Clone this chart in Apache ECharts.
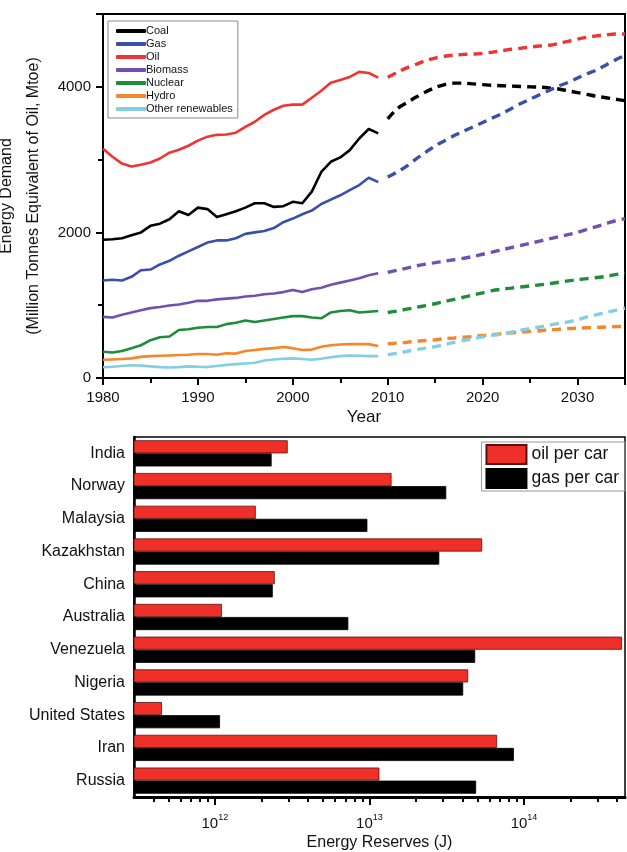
<!DOCTYPE html>
<html>
<head>
<meta charset="utf-8">
<script src="https://cdn.jsdelivr.net/npm/echarts@6/dist/echarts.min.js"></script>
<style>
  html, body { margin: 0; padding: 0; background: #fff; }
  #chart { width: 627px; height: 852px; }
</style>
</head>
<body>
<div id="chart"></div>
<script>
// ---- Energy demand by fuel, Mtoe (historical + projection) ----
const histYears = [1980,1981,1982,1983,1984,1985,1986,1987,1988,1989,1990,1991,1992,1993,1994,
                   1995,1996,1997,1998,1999,2000,2001,2002,2003,2004,2005,2006,2007,2008,2009];
const projYears = [2010,2011,2012,2013,2014,2015,2016,2017,2018,2019,2020,2021,2022,
                   2023,2024,2025,2026,2027,2028,2029,2030,2031,2032,2033,2034,2035];

const fuelNames = ['Coal', 'Gas', 'Oil', 'Biomass', 'Nuclear', 'Hydro', 'Other renewables'];
const fuelColors = ['#000000', '#3a4faa', '#ef3434', '#7150b0', '#1e8c3a', '#f7862a', '#82cfe3'];

const coalHist = [1900,1905,1920,1960,2000,2090,2120,2180,2290,2240,2340,2320,2210,2250,2290,
                  2340,2400,2400,2350,2360,2420,2400,2560,2830,2970,3030,3130,3290,3420,3360];
const gasHist = [1340,1350,1340,1390,1480,1490,1560,1610,1680,1740,1800,1860,1890,1890,1920,
                 1980,2000,2020,2060,2140,2190,2250,2300,2390,2450,2510,2580,2650,2750,2690];
const oilHist = [3150,3040,2945,2905,2930,2960,3015,3095,3135,3190,3260,3315,3340,3345,3370,
                 3450,3520,3615,3685,3740,3755,3755,3850,3945,4055,4095,4135,4205,4190,4125];
const biomassHist = [840,830,870,900,930,960,975,995,1010,1035,1060,1060,1080,1090,1100,
                     1120,1130,1150,1160,1180,1210,1180,1220,1240,1280,1310,1340,1370,1410,1440];
const nuclearHist = [360,350,370,410,450,520,560,570,660,670,690,700,700,740,760,
                     790,770,790,810,830,850,850,830,820,900,920,930,900,910,920];
const hydroHist = [250,255,260,270,290,300,305,310,315,320,330,330,320,340,335,
                   370,385,400,410,425,410,385,390,430,450,460,465,465,465,440];
const otherHist = [150,155,165,175,170,160,150,145,150,160,155,150,165,180,190,
                   200,210,240,255,265,270,260,250,265,285,300,310,305,300,300];

const coalProj = [3560,3700,3780,3860,3930,3990,4030,4050,4050,4040,4030,4020,4015,
                  4010,4005,4000,3995,3985,3970,3945,3920,3895,3870,3850,3830,3810];
const gasProj = [2760,2830,2910,3010,3100,3190,3260,3330,3390,3450,3510,3570,3630,
                 3700,3770,3830,3890,3950,4010,4060,4120,4180,4230,4300,4370,4430];
const oilProj = [4130,4200,4260,4310,4360,4395,4420,4435,4445,4450,4460,4475,4495,
                 4515,4530,4545,4560,4570,4595,4625,4655,4680,4700,4715,4725,4725];
const biomassProj = [1450,1480,1510,1540,1565,1585,1605,1625,1645,1670,1700,1730,1760,
                     1790,1820,1850,1880,1910,1940,1970,2000,2040,2080,2120,2160,2190];
const nuclearProj = [900,920,945,970,995,1020,1050,1080,1110,1140,1170,1200,1220,
                     1235,1250,1265,1280,1295,1315,1335,1350,1365,1380,1395,1420,1440];
const hydroProj = [470,480,490,505,515,525,540,550,560,570,585,595,610,
                   620,630,640,650,660,670,680,685,690,695,700,705,710];
const otherProj = [320,340,365,390,410,430,460,490,515,540,565,585,605,
                   630,655,680,700,725,750,770,800,840,870,900,930,960];

const histSets = [coalHist, gasHist, oilHist, biomassHist, nuclearHist, hydroHist, otherHist];
const projSets = [coalProj, gasProj, oilProj, biomassProj, nuclearProj, hydroProj, otherProj];

// ---- Energy reserves per car, J ----
const countries = ['India', 'Norway', 'Malaysia', 'Kazakhstan', 'China', 'Australia',
                   'Venezuela', 'Nigeria', 'United States', 'Iran', 'Russia'];
const oilPerCar = [2.96e12, 1.39e13, 1.84e12, 5.36e13, 2.44e12, 1.11e12,
                   4.3e14, 4.35e13, 4.55e11, 6.7e13, 1.16e13];
const gasPerCar = [2.33e12, 3.14e13, 9.7e12, 2.83e13, 2.37e12, 7.3e12,
                   4.83e13, 4.04e13, 1.08e12, 8.6e13, 4.9e13];

const reserveMajorTicks = [1e12, 1e13, 1e14];
const reserveMinorTicks = [4e11, 5e11, 6e11, 7e11, 8e11, 9e11,
                           2e12, 3e12, 4e12, 5e12, 6e12, 7e12, 8e12, 9e12,
                           2e13, 3e13, 4e13, 5e13, 6e13, 7e13, 8e13, 9e13,
                           2e14, 3e14, 4e14];

const FONT = "'Liberation Sans', Arial, Helvetica, sans-serif";

const chart = echarts.init(document.getElementById('chart'), null, { renderer: 'canvas' });

const series = [];
fuelNames.forEach((name, i) => {
  series.push({
    name: name, type: 'line', xAxisIndex: 0, yAxisIndex: 0,
    symbol: 'none', silent: true, animation: false,
    data: histYears.map((y, k) => [y, histSets[i][k]]),
    lineStyle: { color: fuelColors[i], width: 2.6, join: 'round' },
    itemStyle: { color: fuelColors[i] }
  });
  series.push({
    name: name, type: 'line', xAxisIndex: 0, yAxisIndex: 0,
    symbol: 'none', silent: true, animation: false, smooth: 0.3,
    data: projYears.map((y, k) => [y, projSets[i][k]]),
    lineStyle: { color: fuelColors[i], width: 3.4, type: [9, 6], cap: 'butt' },
    itemStyle: { color: fuelColors[i] }
  });
});

series.push({
  name: 'oil per car', type: 'bar', xAxisIndex: 1, yAxisIndex: 1,
  data: oilPerCar, barGap: '0%', barCategoryGap: '20%', animation: false,
  itemStyle: { color: '#ef3029', borderColor: '#5a1010', borderWidth: 0.8 }
});
series.push({
  name: 'gas per car', type: 'bar', xAxisIndex: 1, yAxisIndex: 1,
  data: gasPerCar, barGap: '0%', barCategoryGap: '20%', animation: false,
  itemStyle: { color: '#000000', borderColor: '#000000', borderWidth: 0.8 }
});

function powerLabel(v) {
  const e = Math.round(Math.log10(v));
  return '{b|10}{e|' + e + '}';
}
const plainNumber = v => String(v);

chart.setOption({
  animation: false,
  textStyle: { fontFamily: FONT, color: '#111' },
  grid: [
    { left: 103, top: 14, width: 522, height: 364, show: true, outerBoundsMode: 'none',
      containLabel: false, borderColor: '#000', borderWidth: 2, backgroundColor: 'transparent' },
    { left: 134, top: 437, width: 491, height: 360, show: true, outerBoundsMode: 'none',
      containLabel: false, borderColor: '#000', borderWidth: 1.5, backgroundColor: 'transparent' }
  ],
  legend: [
    {
      data: fuelNames, orient: 'vertical', left: 108, top: 21,
      icon: 'roundRect', itemWidth: 30, itemHeight: 4, itemGap: 1,
      padding: [4, 5, 3, 8], borderColor: '#8a8a8a', borderWidth: 1,
      selectedMode: false,
      textStyle: { fontFamily: FONT, fontSize: 11, color: '#111', padding: [0, 0, 0, -5], lineHeight: 12 }
    },
    {
      data: ['oil per car', 'gas per car'], orient: 'vertical', right: 2, top: 442,
      icon: 'rect', itemWidth: 40, itemHeight: 19, itemGap: 3,
      padding: [2, 6, 2, 4], borderColor: '#9a9a9a', borderWidth: 1,
      selectedMode: false,
      textStyle: { fontFamily: FONT, fontSize: 17.5, color: '#111' }
    }
  ],
  xAxis: [
    {
      type: 'value', gridIndex: 0, min: 1980, max: 2035, interval: 10,
      name: 'Year', nameLocation: 'middle', nameGap: 31,
      nameTextStyle: { fontFamily: FONT, fontSize: 17, color: '#111' },
      axisLine: { show: true, onZero: false, lineStyle: { color: '#000', width: 2 } },
      axisTick: { show: true, length: 7, lineStyle: { color: '#000', width: 2 } },
      minorTick: { show: true, splitNumber: 2, length: 5, lineStyle: { color: '#000', width: 2 } },
      axisLabel: { fontFamily: FONT, fontSize: 15, color: '#111', margin: 12,
                   showMaxLabel: false, formatter: plainNumber },
      splitLine: { show: false }
    },
    {
      type: 'log', gridIndex: 1, position: 'bottom', min: 3e11, max: 4.5e14,
      name: 'Energy Reserves (J)', nameLocation: 'middle', nameGap: 38,
      nameTextStyle: { fontFamily: FONT, fontSize: 16, color: '#111' },
      axisLine: { show: true, onZero: false, lineStyle: { color: '#000', width: 3 } },
      axisTick: { show: true, customValues: reserveMajorTicks, length: 8,
                  lineStyle: { color: '#000', width: 2 } },
      axisLabel: {
        show: true, customValues: reserveMajorTicks, margin: 16,
        formatter: powerLabel,
        rich: {
          b: { fontFamily: FONT, fontSize: 15, color: '#111', lineHeight: 18, verticalAlign: 'bottom' },
          e: { fontFamily: FONT, fontSize: 9, color: '#111', lineHeight: 12, verticalAlign: 'top' }
        }
      },
      splitLine: { show: false }
    },
    {
      type: 'log', gridIndex: 1, position: 'bottom', min: 3e11, max: 4.5e14,
      axisLine: { show: false },
      axisTick: { show: true, customValues: reserveMinorTicks, length: 5,
                  lineStyle: { color: '#000', width: 2 } },
      axisLabel: { show: false },
      splitLine: { show: false }
    }
  ],
  yAxis: [
    {
      type: 'value', gridIndex: 0, min: 0, max: 5000, interval: 2000,
      name: 'Energy Demand\n(Million Tonnes Equivalent of Oil, Mtoe)',
      nameLocation: 'middle', nameGap: 50, nameRotate: 90,
      nameTextStyle: { fontFamily: FONT, fontSize: 16, color: '#111', lineHeight: 27 },
      axisLine: { show: true, onZero: false, lineStyle: { color: '#000', width: 2 } },
      axisTick: { show: true, length: 7, lineStyle: { color: '#000', width: 2 } },
      minorTick: { show: true, splitNumber: 2, length: 5, lineStyle: { color: '#000', width: 2 } },
      axisLabel: { fontFamily: FONT, fontSize: 15, color: '#111', margin: 12,
                   showMaxLabel: false, formatter: plainNumber },
      splitLine: { show: false }
    },
    {
      type: 'category', gridIndex: 1, data: countries, inverse: true,
      axisLine: { show: true, onZero: false, lineStyle: { color: '#000', width: 2.5 } },
      axisTick: { show: false },
      axisLabel: { fontFamily: FONT, fontSize: 16, color: '#111', margin: 9 },
      splitLine: { show: false }
    }
  ],
  series: series
});
</script>
</body>
</html>
